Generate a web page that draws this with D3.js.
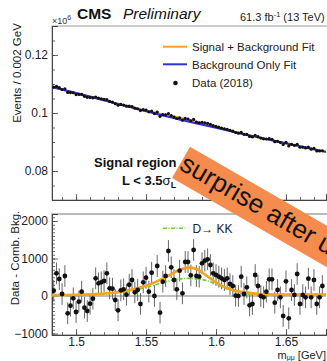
<!DOCTYPE html>
<html><head><meta charset="utf-8">
<script src="https://cdn.jsdelivr.net/npm/d3@7"></script>
<style>
html,body{margin:0;padding:0;background:#fff;overflow:hidden}
svg{display:block;font-family:"Liberation Sans",Arial,sans-serif}
</style></head><body><svg id="c" width="327" height="361"></svg>
<script>
// ---------- data ----------
const binMass = [1.484,1.486,1.488,1.490,1.492,1.494,1.496,1.498,1.500,1.502,1.504,1.506,1.508,1.510,1.512,1.514,1.516,1.518,1.520,1.522,1.524,1.526,1.528,1.530,1.532,1.534,1.536,1.538,1.540,1.542,1.544,1.546,1.548,1.550,1.552,1.554,1.556,1.558,1.560,1.562,1.564,1.566,1.568,1.570,1.572,1.574,1.576,1.578,1.580,1.582,1.584,1.586,1.588,1.590,1.592,1.594,1.596,1.598,1.600,1.602,1.604,1.606,1.608,1.610,1.612,1.614,1.616,1.618,1.620,1.622,1.624,1.626,1.628,1.630,1.632,1.634,1.636,1.638,1.640,1.642,1.644,1.646,1.648,1.650,1.652,1.654,1.656,1.658,1.660,1.662,1.664,1.666,1.668,1.670,1.672,1.674,1.676];
// Events / 0.002 GeV, in units of 10^6
const dataEvents = [0.10894,0.10915,0.10875,0.10810,0.10833,0.10709,0.10704,0.10699,0.10637,0.10640,0.10642,0.10574,0.10540,0.10535,0.10523,0.10552,0.10514,0.10491,0.10470,0.10465,0.10400,0.10375,0.10319,0.10267,0.10295,0.10273,0.10234,0.10235,0.10223,0.10165,0.10146,0.10084,0.10116,0.10104,0.10042,0.10067,0.09980,0.10035,0.09886,0.09945,0.09937,0.09981,0.09914,0.09858,0.09810,0.09837,0.09753,0.09814,0.09791,0.09733,0.09779,0.09687,0.09664,0.09677,0.09662,0.09644,0.09607,0.09562,0.09536,0.09510,0.09483,0.09457,0.09439,0.09402,0.09375,0.09327,0.09304,0.09334,0.09265,0.09262,0.09193,0.09176,0.09232,0.09182,0.09134,0.09109,0.09104,0.09115,0.09094,0.09011,0.09024,0.08983,0.08913,0.08984,0.08864,0.08919,0.08885,0.08920,0.08819,0.08822,0.08794,0.08823,0.08752,0.08778,0.08693,0.08689,0.08699];
// Data - Comb. Bkg.
const residuals = [141,604,453,53,533,-462,-258,-62,-427,-151,116,-311,-400,-204,-71,471,338,364,400,604,204,196,-107,-382,151,178,36,300,427,98,160,-213,364,489,116,622,0,800,-444,382,533,1200,764,427,178,676,71,907,907,551,1227,533,516,871,942,978,827,604,560,516,471,427,471,320,267,9,0,516,53,231,-249,-213,560,267,0,-36,116,444,444,-178,160,-36,-533,391,-596,160,27,587,-213,27,-36,462,-36,427,-213,-36,267];
const residErrHalf = 290;
const dataErrHalf = 0.00031;

// fits in the upper panel (10^6 events)
const bkgFitMass = [1.483,1.50,1.52,1.54,1.56,1.58,1.60,1.62,1.64,1.66,1.68];
const bkgFitVal  = [0.10890,0.10690,0.10440,0.10190,0.09940,0.09710,0.09490,0.09270,0.09060,0.08850,0.08650];
const sbFitMass = [1.483,1.50,1.52,1.54,1.55,1.56,1.57,1.58,1.59,1.60,1.61,1.62,1.64,1.66,1.679];
const sbFitVal  = [0.10896,0.10684,0.10437,0.10198,0.10083,0.09973,0.09877,0.09776,0.09652,0.09517,0.09388,0.09270,0.09054,0.08844,0.08644];

// curves in the lower panel
const sigMass  = [1.483,1.50,1.517,1.531,1.541,1.554,1.56,1.567,1.573,1.58,1.586,1.591,1.596,1.601,1.61,1.622,1.631,1.655,1.679];
const sigResid = [25,35,60,110,180,330,430,560,680,756,720,600,470,340,180,90,55,36,36];
const kkMass  = [1.483,1.50,1.52,1.535,1.554,1.56,1.57,1.58,1.59,1.60,1.61,1.62,1.63,1.679];
const kkResid = [10,20,50,120,267,338,430,471,440,320,160,60,40,36];

// tick labels
const xTickVals = [1.5,1.55,1.6,1.65];
const xTickLabels = ["1.5","1.55","1.6","1.65"];
const yTopTickVals = [0.08,0.10,0.12];
const yTopTickLabels = ["0.08","0.1","0.12"];
const yBotTickVals = [-1000,0,1000,2000];
const yBotTickLabels = ["\u22121000","0","1000","2000"];

const legendLabels = ["Signal + Background Fit","Background Only Fit","Data (2018)"];

// ---------- drawing ----------
const svg = d3.select("#c");
const L=52, R=326;
const x = d3.scaleLinear().domain([1.4828,1.6786]).range([L,R]);
const yTop = d3.scaleLinear().domain([0.07,0.13]).range([200,26]);
const yBot = d3.scaleLinear().domain([-1040,2187]).range([335,214]);

const cOrange="#f5a31f", cBlue="#3030e0", cGreen="#6ccc3c";

const defs = svg.append("defs");
defs.append("clipPath").attr("id","clipT").append("rect").attr("x",L).attr("y",26).attr("width",R-L).attr("height",174);
defs.append("clipPath").attr("id","clipB").append("rect").attr("x",L).attr("y",214).attr("width",R-L).attr("height",121);

// frames
svg.append("rect").attr("x",L).attr("y",26).attr("width",290).attr("height",174)
  .attr("fill","none").attr("stroke","#999").attr("stroke-width",1);
svg.append("rect").attr("x",L).attr("y",214).attr("width",290).attr("height",121)
  .attr("fill","none").attr("stroke","#aaa").attr("stroke-width",1.6);

// ---- top panel axes
function fmt(vals,labels){return d=>{const i=vals.findIndex(v=>Math.abs(v-d)<1e-9);return i>=0?labels[i]:"";};}
const gTL = svg.append("g").attr("transform",`translate(${L},0)`);
gTL.call(d3.axisLeft(yTop).tickValues(d3.range(0.07,0.1301,0.005)).tickSize(-3).tickFormat(""));
gTL.append("g").call(d3.axisLeft(yTop).tickValues(yTopTickVals).tickSize(-6).tickPadding(4).tickFormat(fmt(yTopTickVals,yTopTickLabels)));
const gTB = svg.append("g").attr("transform",`translate(0,200)`);
gTB.call(d3.axisBottom(x).tickValues(d3.range(1.49,1.6786,0.01)).tickSize(-3).tickFormat(""));
gTB.append("g").call(d3.axisBottom(x).tickValues(xTickVals).tickSize(-6).tickFormat(""));

// ---- bottom panel axes
const gBL = svg.append("g").attr("transform",`translate(${L},0)`);
gBL.call(d3.axisLeft(yBot).tickValues(d3.range(-1000,2101,100)).tickSize(-3).tickFormat(""));
gBL.append("g").call(d3.axisLeft(yBot).tickValues(yBotTickVals).tickSize(-6).tickPadding(4).tickFormat(fmt(yBotTickVals,yBotTickLabels)));
const gBB = svg.append("g").attr("transform",`translate(0,335)`);
gBB.call(d3.axisBottom(x).tickValues(d3.range(1.49,1.6786,0.01)).tickSize(-3).tickFormat(""));
gBB.append("g").call(d3.axisBottom(x).tickValues(xTickVals).tickSize(-6).tickPadding(2.5).tickFormat(fmt(xTickVals,xTickLabels)));

svg.selectAll(".domain").attr("stroke","#444").attr("stroke-width",1);
svg.selectAll(".tick line").attr("stroke","#444").attr("stroke-width",0.8);
svg.selectAll(".tick text").attr("font-size",12).attr("fill","#222").attr("font-family","Liberation Sans, Arial, sans-serif");

// zero line
svg.append("line").attr("x1",L).attr("x2",R).attr("y1",yBot(0)).attr("y2",yBot(0))
  .attr("stroke","#aaa").attr("stroke-width",1.6);

// ---- top panel marks
const gT = svg.append("g").attr("clip-path","url(#clipT)");
const lineTop = d3.line().curve(d3.curveMonotoneX);
gT.append("path").attr("d",lineTop(sbFitMass.map((m,i)=>[x(m),yTop(sbFitVal[i])])))
  .attr("fill","none").attr("stroke",cOrange).attr("stroke-width",2.2);
gT.append("path").attr("d",lineTop(bkgFitMass.map((m,i)=>[x(m),yTop(bkgFitVal[i])])))
  .attr("fill","none").attr("stroke",cBlue).attr("stroke-width",2);
gT.selectAll("line.eb").data(binMass).join("line").attr("class","eb")
  .attr("x1",d=>x(d)).attr("x2",d=>x(d))
  .attr("y1",(d,i)=>yTop(dataEvents[i]-dataErrHalf)).attr("y2",(d,i)=>yTop(dataEvents[i]+dataErrHalf))
  .attr("stroke","#111").attr("stroke-width",0.8);
gT.selectAll("circle").data(binMass).join("circle")
  .attr("cx",d=>x(d)).attr("cy",(d,i)=>yTop(dataEvents[i])).attr("r",1.6).attr("fill","#111");

// ---- bottom panel marks
const gB = svg.append("g").attr("clip-path","url(#clipB)");
gB.selectAll("line.eb").data(binMass).join("line").attr("class","eb")
  .attr("x1",d=>x(d)).attr("x2",d=>x(d))
  .attr("y1",(d,i)=>yBot(residuals[i]-residErrHalf)).attr("y2",(d,i)=>yBot(residuals[i]+residErrHalf))
  .attr("stroke","#666").attr("stroke-width",1);
gB.append("path").attr("d",lineTop(kkMass.map((m,i)=>[x(m),yBot(kkResid[i])])))
  .attr("fill","none").attr("stroke",cGreen).attr("stroke-width",1.6).attr("stroke-dasharray","4,1.5,1,1.5");
gB.append("path").attr("d",lineTop(sigMass.map((m,i)=>[x(m),yBot(sigResid[i])])))
  .attr("fill","none").attr("stroke",cOrange).attr("stroke-width",2.6);
gB.selectAll("circle").data(binMass).join("circle")
  .attr("cx",d=>x(d)).attr("cy",(d,i)=>yBot(residuals[i])).attr("r",2.4).attr("fill","#111");

// ---- legends
const lg = svg.append("g").attr("font-size",11.5).attr("fill","#222");
lg.append("line").attr("x1",163).attr("x2",187).attr("y1",46.7).attr("y2",46.7).attr("stroke",cOrange).attr("stroke-width",2);
lg.append("line").attr("x1",163).attr("x2",187).attr("y1",64.3).attr("y2",64.3).attr("stroke",cBlue).attr("stroke-width",2);
lg.append("circle").attr("cx",175.5).attr("cy",83).attr("r",2.3).attr("fill","#111");
[51,68.5,87].forEach((yy,i)=>lg.append("text").attr("x",192).attr("y",yy).text(legendLabels[i]));

svg.append("line").attr("x1",163).attr("x2",185).attr("y1",228.3).attr("y2",228.3)
  .attr("stroke",cGreen).attr("stroke-width",1.5).attr("stroke-dasharray","4,1.5,1,1.5");
svg.append("text").attr("x",192.5).attr("y",232.5).attr("font-size",12).attr("fill","#222").text("D\u2192 KK");

// ---- titles
svg.append("text").attr("x",52).attr("y",24).attr("font-size",9).attr("fill","#333")
  .html('\u00d710<tspan dy="-4" font-size="7">6</tspan>');
svg.append("text").attr("x",77).attr("y",19).attr("font-size",15.5).attr("font-weight","bold").attr("fill","#111").text("CMS");
svg.append("text").attr("x",123).attr("y",19).attr("font-size",15.5).attr("font-style","italic").attr("fill","#111").text("Preliminary");
svg.append("text").attr("x",240).attr("y",21).attr("font-size",11).attr("fill","#222")
  .html('61.3 fb<tspan dy="-4" font-size="7.5">-1</tspan><tspan dy="4"> (13 TeV)</tspan>');

svg.append("text").attr("transform","translate(21,73) rotate(-90)").attr("text-anchor","middle")
  .attr("font-size",11.5).attr("fill","#222").text("Events / 0.002 GeV");
svg.append("text").attr("transform","translate(19,258) rotate(-90)").attr("text-anchor","middle")
  .attr("font-size",11.5).attr("fill","#222").text("Data - Comb. Bkg.");
svg.append("text").attr("x",326).attr("y",358.5).attr("text-anchor","end").attr("font-size",11).attr("fill","#222")
  .html('m<tspan dy="1" font-size="7">\u03bc\u03bc</tspan><tspan dy="-1"> [GeV]</tspan>');

svg.append("text").attr("x",94).attr("y",167).attr("font-size",13).attr("font-weight","bold").attr("fill","#111").text("Signal region");
svg.append("text").attr("x",122).attr("y",185).attr("font-size",13).attr("font-weight","bold").attr("fill","#111")
  .html('L &lt; 3.5<tspan font-weight="normal">\u03c3</tspan><tspan dy="3" font-size="9">L</tspan>');

// ---- banner
const bn = svg.append("g").attr("transform","translate(190,146.7) rotate(30)");
bn.append("rect").attr("x",0).attr("y",0).attr("width",260).attr("height",36).attr("fill","#f58b4c");
bn.append("text").attr("x",1).attr("y",25).attr("font-size",26).attr("fill","#111").text("surprise after unblinding");
</script></body></html>
